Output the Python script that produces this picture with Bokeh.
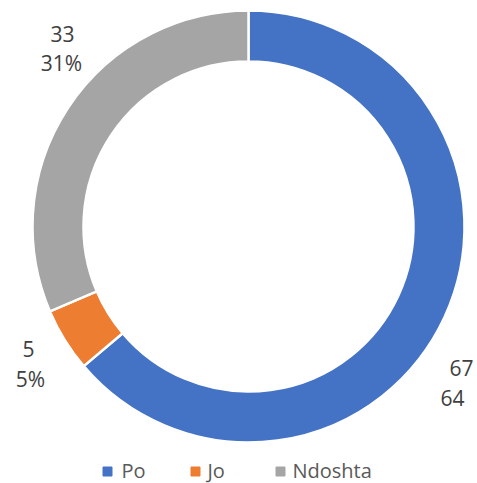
import math
from bokeh.plotting import figure
from bokeh.models import ColumnDataSource, Range1d
from bokeh.core.properties import value
from bokeh.embed import file_html
from bokeh.resources import INLINE

categories = ["Po", "Jo", "Ndoshta"]
counts = [67, 5, 33]
count_labels = ["67", "5", "33"]
pct_labels = ["64", "5%", "31%"]
colors = ["#4472C4", "#ED7D31", "#A5A5A5"]

W, H = 477, 483
p = figure(width=W, height=H, output_backend="svg", toolbar_location=None,
           x_range=Range1d(0, W), y_range=Range1d(0, H), min_border=0,
           outline_line_color=None)
p.axis.visible = False
p.grid.visible = False
p.background_fill_color = "white"
p.border_fill_color = "white"

total = sum(counts)
starts, ends = [], []
cum = 0.0
for c in counts:
    a0 = cum / total
    cum += c
    a1 = cum / total
    starts.append(math.pi / 2 - a1 * 2 * math.pi)
    ends.append(math.pi / 2 - a0 * 2 * math.pi)

cx, cy = 248, 257
src = ColumnDataSource(dict(start=starts, end=ends, color=colors, cat=categories))
p.annular_wedge(x=cx, y=cy, inner_radius=165, outer_radius=216,
                start_angle="start", end_angle="end", fill_color="color",
                line_color="white", line_width=2.5, source=src)

font = value("Open Sans")
# data labels
cnt_pos = [(461, 116), (28, 135), (62, 450)]
pct_pos = [(452, 86), (30, 105), (61, 421)]
p.text(x=[q[0] for q in cnt_pos], y=[q[1] for q in cnt_pos], text=count_labels,
       text_font=font, text_font_size="21px", text_color="#404040",
       text_align="center", text_baseline="middle")
p.text(x=[q[0] for q in pct_pos], y=[q[1] for q in pct_pos], text=pct_labels,
       text_font=font, text_font_size="21px", text_color="#404040",
       text_align="center", text_baseline="middle")

# legend
leg_sq_x = [107, 195, 280]
leg_tx_x = [121, 207, 292]
leg_y = 13
p.scatter(x=leg_sq_x, y=[leg_y - 1] * 3, marker="square", size=9, color=colors)
p.text(x=leg_tx_x, y=[leg_y] * 3, text=categories, text_font=font,
       text_font_size="20px", text_color="#595959",
       text_align="left", text_baseline="middle")

open("out.html", "w").write(file_html(p, INLINE))
